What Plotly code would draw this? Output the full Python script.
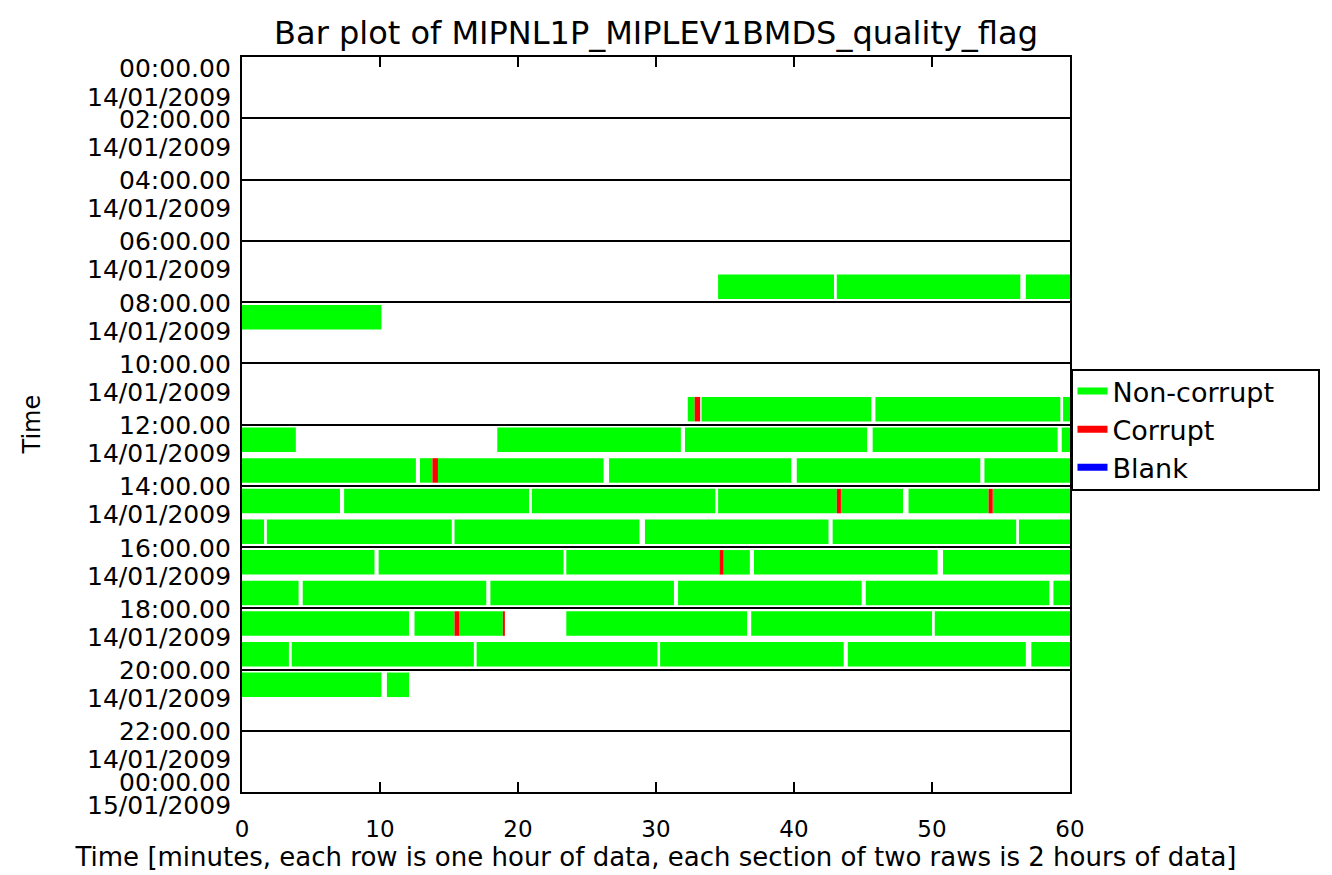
import plotly.graph_objects as go

# hour rows (0 = 00:00-01:00 on 14/01/2009), minutes within the hour
nc_hour = [7, 7, 7,
           8,
           11, 11, 11, 11,
           12, 12, 12, 12, 12,
           13, 13, 13, 13, 13, 13,
           14, 14, 14, 14, 14, 14, 14,
           15, 15, 15, 15, 15, 15,
           16, 16, 16, 16, 16, 16,
           17, 17, 17, 17, 17, 17,
           18, 18, 18, 18, 18, 18,
           19, 19, 19, 19, 19, 19,
           20, 20]
nc_start = [34.5, 43.1, 56.8,
            0,
            32.3, 33.3, 45.9, 59.5,
            0, 18.5, 32.1, 45.7, 59.4,
            0, 12.9, 14.2, 26.6, 40.2, 53.8,
            0, 7.4, 21.0, 34.5, 43.4, 48.3, 54.4,
            0, 1.8, 15.4, 29.2, 42.8, 56.3,
            0, 9.9, 23.5, 34.9, 37.1, 50.8,
            0, 4.4, 18.0, 31.6, 45.2, 58.8,
            0, 12.5, 15.75, 23.5, 36.9, 50.2,
            0, 3.6, 17.0, 30.3, 43.9, 57.2,
            0, 10.5]
nc_end = [42.9, 56.4, 60,
          10.1,
          32.8, 45.6, 59.3, 60,
          3.9, 31.8, 45.3, 59.1, 60,
          12.6, 13.8, 26.2, 39.8, 53.5, 60,
          7.1, 20.8, 34.3, 43.1, 47.9, 54.1, 60,
          1.6, 15.2, 28.8, 42.5, 56.1, 60,
          9.6, 23.3, 34.6, 36.8, 50.4, 60,
          4.1, 17.7, 31.3, 44.9, 58.5, 60,
          12.1, 15.4, 18.9, 36.6, 50.0, 60,
          3.4, 16.8, 30.1, 43.6, 56.8, 60,
          10.1, 12.1]

c_hour = [11, 13, 14, 14, 16, 18, 18]
c_start = [32.8, 13.8, 43.1, 54.1, 34.6, 15.4, 18.9]
c_end = [33.2, 14.2, 43.4, 54.4, 34.9, 15.75, 19.05]

b_hour = []
b_start = []
b_end = []

section_hours = list(range(0, 25, 2))
x_ticks = [0, 10, 20, 30, 40, 50, 60]

FONT = "DejaVu Sans"
GREEN = "#00ff00"
RED = "#ff0000"
BLUE = "#0000ff"

fig = go.Figure()


def add_bars(hours, starts, ends, color):
    fig.add_trace(go.Bar(
        orientation='h',
        y=[h + 0.5 for h in hours],
        x=[e - s for s, e in zip(starts, ends)],
        base=starts,
        width=0.8,
        marker=dict(color=color, line_width=0),
        showlegend=False,
        hoverinfo='skip',
    ))


add_bars(nc_hour, nc_start, nc_end, GREEN)
add_bars(c_hour, c_start, c_end, RED)
add_bars(b_hour, b_start, b_end, BLUE)

# legend entries drawn as short thick lines, like the original
for name, color in [("Non-corrupt", GREEN), ("Corrupt", RED), ("Blank", BLUE)]:
    fig.add_trace(go.Scatter(x=[None], y=[None], mode='lines', name=name,
                             line=dict(color=color, width=7)))

# y labels: time on the section line, date just below (first/last kept inside)
annotations = []
for h in section_hours:
    day = "15/01/2009" if h == 24 else "14/01/2009"
    if h == 0:
        off_t, off_d = 11, 40
    elif h == 24:
        off_t, off_d = -10, 13
    else:
        off_t, off_d = 1, 29
    for text, off in [("%02d:00.00" % (h % 24), off_t), (day, off_d)]:
        annotations.append(dict(
            x=0, xref='paper', y=h, yref='y', text=text, showarrow=False,
            xanchor='right', yanchor='middle', yshift=-off, xshift=-9,
            font=dict(family=FONT, size=25, color='black'),
        ))

annotations.append(dict(
    x=(31 - 242) / 828, xref='paper', y=0.5, yref='paper', text="Time",
    textangle=-90, showarrow=False, xanchor='center',
    font=dict(family=FONT, size=24, color='black'),
))

fig.update_layout(
    width=1332, height=875,
    margin=dict(l=234, r=270, t=49, b=91),
    paper_bgcolor='white', plot_bgcolor='white',
    barmode='overlay',
    font=dict(family=FONT, size=24, color='black'),
    title=dict(text="Bar plot of MIPNL1P_MIPLEV1BMDS_quality_flag",
               x=648 / 1332, xanchor='center',
               y=1 - 25 / 875, yanchor='middle',
               font=dict(family=FONT, size=32, color='black')),
    xaxis=dict(
        range=[0, 60], tickvals=x_ticks, ticks='inside', ticklen=10,
        tickwidth=1.5, tickcolor='black', mirror='allticks',
        showline=True, linecolor='black', linewidth=2, showgrid=False,
        zeroline=False, tickfont=dict(size=23), ticklabelstandoff=15,
        title=dict(text="Time [minutes, each row is one hour of data, "
                        "each section of two raws is 2 hours of data]",
                   font=dict(size=26), standoff=2),
    ),
    yaxis=dict(
        range=[24, 0], tickvals=section_hours, showticklabels=False,
        ticks='', showgrid=True, gridcolor='black', gridwidth=2,
        showline=True, linecolor='black', linewidth=2, mirror=True,
        zeroline=False,
    ),
    legend=dict(
        x=1.003, xanchor='left', y=(792 - 367) / 735, yanchor='top',
        borderwidth=0, bgcolor='rgba(0,0,0,0)',
        font=dict(family=FONT, size=27), tracegroupgap=0,
    ),
    # legend frame, wider than plotly's own box as in the original
    shapes=[dict(
        type='rect', xref='paper', yref='paper',
        x0=(1072 - 242) / 828, x1=(1319 - 242) / 828,
        y0=(792 - 490) / 735, y1=(792 - 370) / 735,
        line=dict(color='black', width=2), fillcolor='white', layer='above',
    )],
    annotations=annotations,
)

fig.write_html("out.html")
